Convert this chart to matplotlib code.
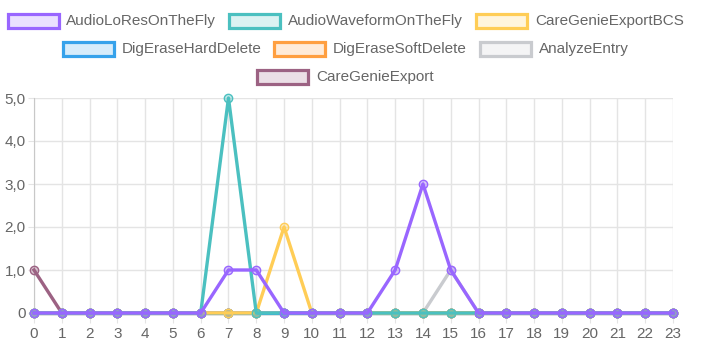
import matplotlib.pyplot as plt
from matplotlib.patches import Rectangle
from matplotlib.colors import to_rgba

hours = list(range(24))
names = ['AudioLoResOnTheFly', 'AudioWaveformOnTheFly', 'CareGenieExportBCS',
         'DigEraseHardDelete', 'DigEraseSoftDelete', 'AnalyzeEntry', 'CareGenieExport']
colors = ['#9966ff', '#4bc0c0', '#ffcd56', '#36a2eb', '#ff9f40', '#c9cbcf', '#9c6283']

audio_lores = [0, 0, 0, 0, 0, 0, 0, 1, 1, 0, 0, 0, 0, 1, 3, 1, 0, 0, 0, 0, 0, 0, 0, 0]
audio_wave = [0, 0, 0, 0, 0, 0, 0, 5, 0, 0, 0, 0, 0, 0, 0, 0, 0, 0, 0, 0, 0, 0, 0, 0]
cg_export_bcs = [0, 0, 0, 0, 0, 0, 0, 0, 0, 2, 0, 0, 0, 0, 0, 0, 0, 0, 0, 0, 0, 0, 0, 0]
dig_hard = [0] * 24
dig_soft = [0] * 24
analyze = [0, 0, 0, 0, 0, 0, 0, 0, 0, 0, 0, 0, 0, 0, 0, 1, 0, 0, 0, 0, 0, 0, 0, 0]
cg_export = [1, 0, 0, 0, 0, 0, 0, 0, 0, 0, 0, 0, 0, 0, 0, 0, 0, 0, 0, 0, 0, 0, 0, 0]
series = [audio_lores, audio_wave, cg_export_bcs, dig_hard, dig_soft, analyze, cg_export]

yticks = [0, 1, 2, 3, 4, 5]
ylabels = ['0', '1,0', '2,0', '3,0', '4,0', '5,0']

plt.rcParams['font.family'] = ['Liberation Sans', 'DejaVu Sans']
W, H = 704, 350
fig = plt.figure(figsize=(7.04, 3.5), dpi=100)
ax = fig.add_axes([34 / W, 1 - 313 / H, (673 - 34) / W, (313 - 98) / H])

# chart.js draws the first dataset on top
for i in range(len(series) - 1, -1, -1):
    c = colors[i]
    ax.plot(hours, series[i], color=c, lw=2.4, marker='o', ms=6,
            mfc=to_rgba(c, 0.35), mec=c, mew=1, clip_on=False, zorder=10 - i)

ax.set_xlim(0, 23)
ax.set_ylim(0, 5)
ax.set_xticks(hours)
ax.set_yticks(yticks)
ax.set_yticklabels(ylabels)
ax.grid(True, color='#e4e4e4', lw=1)
ax.set_axisbelow(True)
for s in ['top', 'right', 'bottom']:
    ax.spines[s].set_visible(False)
ax.spines['left'].set_color('#c8c8c8')
ax.tick_params(colors='#e4e4e4', labelcolor='#666666', labelsize=11)
ax.tick_params(axis='x', length=7, pad=3)
ax.tick_params(axis='y', length=4, pad=2)

# legend drawn by hand, chart.js style
leg = [
    (8, 21, 66), (229, 21, 288), (476, 21, 535),
    (63, 49, 122), (274, 49, 333), (480, 49, 539),
    (257, 77, 316),
]
for (bx, by, tx), name, c in zip(leg, names, colors):
    fig.patches.append(Rectangle((bx / W, 1 - (by + 7) / H), 51 / W, 14 / H,
                                 transform=fig.transFigure, fc=to_rgba(c, 0.2),
                                 ec=c, lw=2.3))
    fig.text(tx / W, 1 - by / H, name, ha='left', va='center', fontsize=11,
             color='#666666')

fig.savefig('out.png', dpi=100)
